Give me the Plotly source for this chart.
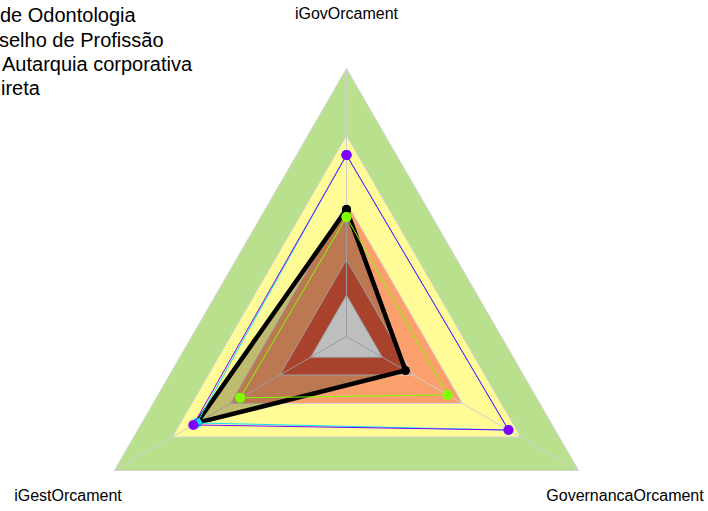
import numpy as np
import plotly.graph_objects as go

# eixos do radar: topo, direita-baixo, esquerda-baixo
axes = ["iGovOrcament", "GovernancaOrcament", "iGestOrcament"]
axis_angles = [90, -30, 210]

# faixas de referencia: raio externo de cada triangulo de fundo
band_levels = [1.0, 0.75, 0.5, 0.287, 0.154]
band_colors = ["#b9e08d", "#fffb96", "#fba06c", "#e2593c", "#fefefe"]

# series
entidade = [0.474, 0.254, 0.645]
indireta = [0.677, 0.698, 0.645]
profissao = [0.446, 0.436, 0.458]
autarquia = [0.677, 0.698, 0.660]

legend_labels = ["de Odontologia", "selho de Profissão", "Autarquia corporativa", "ireta"]
label_radius = 1.2

# geometria em pixels (janela 708x511)
FIG_W, FIG_H = 708, 511
CX, CY, SCALE = 346.5, 336.5, 268.0

theta = np.deg2rad(axis_angles)


def polar_xy(vals, close=True):
    r = np.asarray(vals, dtype=float)
    t = theta
    if close:
        r = np.append(r, r[0])
        t = np.append(t, t[0])
    return r * np.cos(t), r * np.sin(t)


fig = go.Figure()

for level, color in zip(band_levels, band_colors):
    x, y = polar_xy([level] * len(axes))
    fig.add_trace(go.Scatter(
        x=x, y=y, mode="lines", fill="toself", fillcolor=color,
        line=dict(color="#d4d4d4", width=1),
        showlegend=False, hoverinfo="skip"
    ))

# raios do centro ate cada vertice
spoke_x, spoke_y = [], []
for t in theta:
    spoke_x += [0, band_levels[0] * np.cos(t), None]
    spoke_y += [0, band_levels[0] * np.sin(t), None]
fig.add_trace(go.Scatter(
    x=spoke_x, y=spoke_y, mode="lines",
    line=dict(color="#d0d0d0", width=1),
    showlegend=False, hoverinfo="skip"
))

series = [
    ("Conselho de Odontologia", entidade, "black", 4.5, 9),
    ("Indireta", indireta, "#00e5ff", 1, 10),
    ("Conselho de Profissão", profissao, "#7fff00", 1, 10),
    ("Autarquia corporativa", autarquia, "#8000ff", 1, 10),
]
for name, vals, color, lw, ms in series:
    x, y = polar_xy(vals)
    fig.add_trace(go.Scatter(
        x=x, y=y, mode="lines+markers", name=name,
        fill="toself" if name == "Conselho de Odontologia" else None,
        fillcolor="rgba(0,0,0,0.25)",
        line=dict(color=color, width=lw),
        marker=dict(color=color, size=ms),
        showlegend=False
    ))

# nomes dos eixos
lx, ly = polar_xy([label_radius] * len(axes), close=False)
fig.add_trace(go.Scatter(
    x=lx, y=ly, mode="text", text=axes, textposition="middle center",
    textfont=dict(family="Liberation Sans, Arial", size=16, color="black"),
    cliponaxis=False, showlegend=False, hoverinfo="skip"
))

# legenda (cortada na borda esquerda, como no original)
legend_px = [-2, -3, 0, -1]
legend_py = [15, 39.5, 64, 88.5]
for txt, px, py in zip(legend_labels, legend_px, legend_py):
    fig.add_annotation(
        text=txt, xref="paper", yref="paper",
        x=px / FIG_W, y=1 - py / FIG_H,
        xanchor="left", yanchor="middle", showarrow=False,
        font=dict(family="Liberation Sans, Arial", size=20, color="black")
    )

fig.update_layout(
    width=FIG_W, height=FIG_H,
    margin=dict(l=0, r=0, t=0, b=0),
    paper_bgcolor="white", plot_bgcolor="white",
    showlegend=False,
    xaxis=dict(visible=False, range=[-CX / SCALE, (FIG_W - CX) / SCALE]),
    yaxis=dict(visible=False, range=[-(FIG_H - CY) / SCALE, CY / SCALE]),
)

fig.write_html("out.html", config={"displayModeBar": False},
               post_script="document.body.style.margin = '0';")
